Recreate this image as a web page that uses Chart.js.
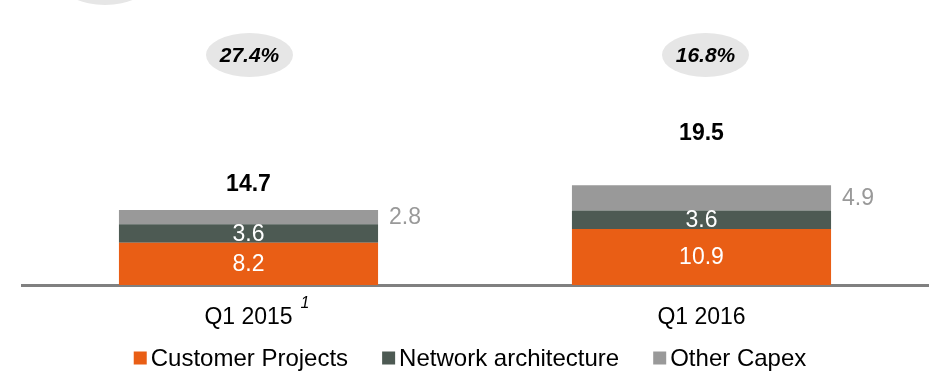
<!DOCTYPE html>
<html>
<head>
<meta charset="utf-8">
<script src="https://cdn.jsdelivr.net/npm/chart.js@4/dist/chart.umd.min.js"></script>
<style>
  html, body { margin: 0; padding: 0; background: #fff; }
  #wrap { width: 937px; height: 371px; }
</style>
</head>
<body>
<div id="wrap"><canvas id="capex"></canvas></div>
<script>
// chart data
var categories = ['Q1 2015', 'Q1 2016'];
var footnotes = ['1', ''];
var customerProjects = [8.2, 10.9];
var networkArchitecture = [3.6, 3.6];
var otherCapex = [2.8, 4.9];
var totals = [14.7, 19.5];
var shares = ['27.4%', '16.8%'];

var FONT = '"Liberation Sans", Arial, sans-serif';
var totalLift = [25, 52];   // px above the bar top for the bold totals

// labels, bubbles, footnote mark and legend
var capexLabels = {
  id: 'capexLabels',
  afterDatasetsDraw: function(chart) {
    var ctx = chart.ctx;
    ctx.save();
    ctx.textBaseline = 'middle';

    // bubbles with percentages
    ctx.fillStyle = '#e6e6e6';
    ctx.beginPath();
    ctx.ellipse(105, -17, 43.5, 22, 0, 0, Math.PI * 2);
    ctx.fill();
    var top = chart.getDatasetMeta(2).data;
    top.forEach(function(bar, i) {
      var cx = bar.x + (i === 0 ? 1 : 4);
      ctx.fillStyle = '#e6e6e6';
      ctx.beginPath();
      ctx.ellipse(cx, 55, 43.5, 22, 0, 0, Math.PI * 2);
      ctx.fill();
      ctx.fillStyle = '#000';
      ctx.textAlign = 'center';
      ctx.font = 'italic bold 21px ' + FONT;
      ctx.fillText(shares[i], cx, 56);
    });

    // values inside and beside the bars
    chart.data.datasets.forEach(function(ds, d) {
      chart.getDatasetMeta(d).data.forEach(function(bar, i) {
        var midY = (bar.y + bar.base) / 2 + 1;
        ctx.font = '23px ' + FONT;
        if (d < 2) {
          ctx.fillStyle = '#fff';
          ctx.textAlign = 'center';
          ctx.fillText(ds.data[i].toFixed(1), bar.x, midY);
        } else {
          ctx.fillStyle = '#999999';
          ctx.textAlign = 'left';
          ctx.fillText(ds.data[i].toFixed(1), bar.x + bar.width / 2 + 11, midY);
        }
      });
    });

    // totals
    top.forEach(function(bar, i) {
      ctx.fillStyle = '#000';
      ctx.textAlign = 'center';
      ctx.font = 'bold 23px ' + FONT;
      ctx.fillText(totals[i].toFixed(1), bar.x, bar.y - totalLift[i]);
    });

    // footnote mark next to the category
    var xs = chart.scales.x;
    categories.forEach(function(c, i) {
      if (!footnotes[i]) return;
      ctx.font = '23px ' + FONT;
      var w = ctx.measureText(c).width;
      ctx.fillStyle = '#000';
      ctx.textAlign = 'left';
      ctx.textBaseline = 'alphabetic';
      ctx.font = 'italic 16px ' + FONT;
      ctx.fillText(footnotes[i], xs.getPixelForTick(i) + w / 2 + 8, 308);
      ctx.textBaseline = 'middle';
    });

    // legend
    var box = 13, gapText = 4, gapItem = 34, legendY = 358;
    ctx.font = '24px ' + FONT;
    var items = chart.data.datasets.map(function(ds) {
      return { label: ds.label, color: ds.backgroundColor, w: ctx.measureText(ds.label).width };
    });
    var total = items.reduce(function(s, it) { return s + box + gapText + it.w; }, 0) + gapItem * (items.length - 1);
    var x = 470 - total / 2;
    items.forEach(function(it) {
      ctx.fillStyle = it.color;
      ctx.fillRect(x, legendY - box / 2, box, box);
      ctx.fillStyle = '#000';
      ctx.textAlign = 'left';
      ctx.fillText(it.label, x + box + gapText, legendY + 1);
      x += box + gapText + it.w + gapItem;
    });
    ctx.restore();
  }
};

new Chart(document.getElementById('capex'), {
  type: 'bar',
  data: {
    labels: categories,
    datasets: [
      { label: 'Customer Projects', data: customerProjects, backgroundColor: '#e95e15' },
      { label: 'Network architecture', data: networkArchitecture, backgroundColor: '#4d5a53' },
      { label: 'Other Capex', data: otherCapex, backgroundColor: '#999999' }
    ]
  },
  options: {
    responsive: true,
    maintainAspectRatio: false,
    animation: false,
    events: [],
    layout: { padding: { left: 22, right: 9, top: 0, bottom: 39 } },
    datasets: { bar: { categoryPercentage: 1, barPercentage: 0.572, borderWidth: 0 } },
    scales: {
      x: {
        stacked: true,
        grid: { display: false, drawTicks: false },
        border: { display: true, color: '#808080', width: 3 },
        ticks: {
          color: '#000',
          padding: 19,
          font: { family: FONT, size: 23, lineHeight: 1.2 }
        },
        afterFit: function(scale) { scale.height = 47; }
      },
      y: { stacked: true, display: false, min: 0, max: 55.4 }
    },
    plugins: {
      legend: { display: false },
      tooltip: { enabled: false }
    }
  },
  plugins: [capexLabels]
});
</script>
</body>
</html>
